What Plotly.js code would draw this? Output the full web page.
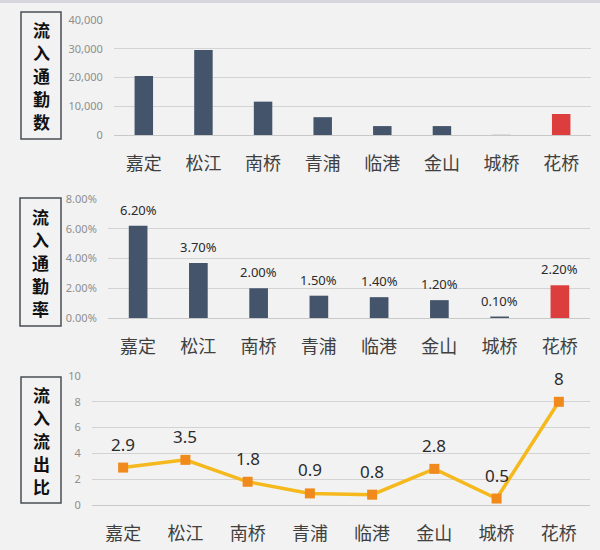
<!DOCTYPE html>
<html>
<head>
<meta charset="utf-8">
<script src="https://cdn.plot.ly/plotly-3.0.1.min.js"></script>
<style>
html,body{margin:0;padding:0;background:#F2F2F2;}
#chart{width:600px;height:550px;}
</style>
</head>
<body>
<div id="chart"></div>
<script>
const categories = ['嘉定','松江','南桥','青浦','临港','金山','城桥','花桥'];
const commuteInflow = [20500, 29600, 11600, 6200, 3100, 3100, 50, 7300];
const commuteRate = [0.062, 0.037, 0.020, 0.015, 0.014, 0.012, 0.001, 0.022];
const rateLabels = ['6.20%','3.70%','2.00%','1.50%','1.40%','1.20%','0.10%','2.20%'];
const inOutRatio = [2.9, 3.5, 1.8, 0.9, 0.8, 2.8, 0.5, 8];
const panelTitles = ['流入通勤数','流入通勤率','流入流出比'];
const highlight = '花桥';

const BLUE = '#44546A', RED = '#DC3E3E';
const barColors = categories.map(c => c === highlight ? RED : BLUE);
const CJK = '"Noto Sans CJK SC", "Noto Sans", sans-serif';
const NUM = '"Noto Sans", "Liberation Sans", sans-serif';

function xAxis(anchor, domain) {
  return {
    anchor: anchor, domain: domain, type: 'category',
    showgrid: false, zeroline: false, showline: false,
    ticks: 'outside', ticklen: 12, tickcolor: 'rgba(0,0,0,0)',
    tickfont: {family: CJK, size: 18, color: '#404040'},
    fixedrange: true
  };
}
function yAxis(anchor, domain, range, dtick, fmt) {
  return {
    anchor: anchor, domain: domain, range: range, dtick: dtick, tickformat: fmt,
    showgrid: true, gridcolor: '#D3D3D3', gridwidth: 1,
    zeroline: true, zerolinecolor: '#C8C8C8', zerolinewidth: 1,
    showline: false,
    ticks: 'outside', ticklen: 8, tickcolor: 'rgba(0,0,0,0)',
    tickfont: {family: NUM, size: 11, color: '#8E8E8E'},
    fixedrange: true
  };
}

const traces = [
  {type: 'bar', x: categories, y: commuteInflow, xaxis: 'x', yaxis: 'y',
   marker: {color: barColors}, width: 0.31, hoverinfo: 'x+y'},
  {type: 'bar', x: categories, y: commuteRate, xaxis: 'x2', yaxis: 'y2',
   marker: {color: barColors}, width: 0.31, hoverinfo: 'x+y'},
  {type: 'scatter', mode: 'lines+markers', x: categories, y: inOutRatio, xaxis: 'x3', yaxis: 'y3',
   line: {color: '#F5B91E', width: 3.5},
   marker: {symbol: 'square', size: 10, color: '#F08A1C', line: {width: 0}},
   cliponaxis: false, hoverinfo: 'x+y'}
];

const annotations = [];
categories.forEach((c, i) => {
  annotations.push({xref: 'x2', yref: 'y2', x: c, y: commuteRate[i], text: rateLabels[i],
    showarrow: false, yanchor: 'bottom', yshift: 5,
    font: {family: NUM, size: 13, color: '#2B2B2B'}});
  annotations.push({xref: 'x3', yref: 'y3', x: c, y: inOutRatio[i], text: String(inOutRatio[i]),
    showarrow: false, yanchor: 'bottom', yshift: 10,
    font: {family: NUM, size: 17, color: '#2B2B2B'}});
});

// title boxes (pixel -> paper)
const W = 600, H = 550;
const boxes = [[21, 12, 61, 139], [20, 198, 61, 326], [21, 377, 61, 503]];
const shapes = [{type: 'rect', xref: 'paper', yref: 'paper', x0: 0, x1: 1, y0: 1 - 3 / H, y1: 1,
  fillcolor: '#D6D6DC', line: {width: 0}, layer: 'below'}];
boxes.forEach((b, i) => {
  shapes.push({type: 'rect', xref: 'paper', yref: 'paper',
    x0: b[0] / W, x1: b[2] / W, y0: 1 - b[3] / H, y1: 1 - b[1] / H,
    fillcolor: 'rgba(0,0,0,0)', line: {color: '#4A4F55', width: 1.5}});
  const chars = panelTitles[i].split('');
  const cx = (b[0] + b[2]) / 2, cy = (b[1] + b[3]) / 2;
  chars.forEach((ch, k) => {
    const py = cy + (k - (chars.length - 1) / 2) * 23;
    annotations.push({xref: 'paper', yref: 'paper',
      x: cx / W, y: 1 - py / H,
      xanchor: 'center', yanchor: 'middle', showarrow: false,
      text: ch,
      font: {family: CJK, size: 17, color: '#111111', weight: 'bold'}});
  });
});

const layout = {
  width: W, height: H,
  margin: {l: 0, r: 0, t: 0, b: 0},
  paper_bgcolor: '#F2F2F2', plot_bgcolor: 'rgba(0,0,0,0)',
  showlegend: false,
  xaxis: xAxis('y', [114 / W, 591 / W]),
  yaxis: yAxis('x', [1 - 135 / H, 1 - 20 / H], [0, 40000], 10000, ',d'),
  xaxis2: xAxis('y2', [108 / W, 590 / W]),
  yaxis2: yAxis('x2', [1 - 318 / H, 1 - 199 / H], [0, 0.08], 0.02, '.2%'),
  xaxis3: xAxis('y3', [92 / W, 590 / W]),
  yaxis3: yAxis('x3', [1 - 505 / H, 1 - 376 / H], [0, 10], 2, 'd'),
  annotations: annotations,
  shapes: shapes
};

Plotly.newPlot('chart', traces, layout, {displayModeBar: false, staticPlot: true});
</script>
</body>
</html>
